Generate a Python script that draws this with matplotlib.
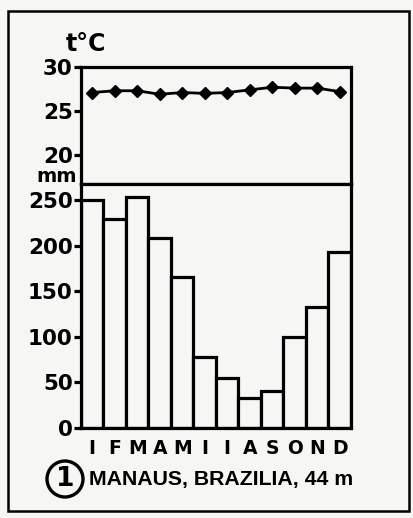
import matplotlib
matplotlib.use("Agg")
import matplotlib.pyplot as plt
from matplotlib.patches import Rectangle, Ellipse

months = ["I", "F", "M", "A", "M", "I", "I", "A", "S", "O", "N", "D"]
precip_mm = [250, 229, 253, 208, 166, 78, 55, 33, 41, 100, 133, 193]
temp_c = [27.1, 27.3, 27.3, 26.9, 27.1, 27.0, 27.1, 27.4, 27.7, 27.6, 27.6, 27.2]
temp_ticks = [20, 25, 30]
precip_ticks = [0, 50, 100, 150, 200, 250]
title = "MANAUS, BRAZILIA, 44 m"
station_no = "1"

W, H = 414, 518
DPI = 100
bg = "#f6f6f4"
fig = plt.figure(figsize=(W / DPI, H / DPI), dpi=DPI, facecolor=bg)

def fbox(left, top, right, bottom):
    return [left / W, 1 - bottom / H, (right - left) / W, (bottom - top) / H]

FONT = dict(family="DejaVu Sans", weight="bold")
LW = 2.3

x = list(range(len(months)))

# temperature panel
axt = fig.add_axes(fbox(81, 67, 351, 184))
axt.set_facecolor(bg)
axt.plot(x, temp_c, color="black", lw=2.0, marker="D", ms=6.5)
axt.set_xlim(-0.5, 11.5)
axt.set_ylim(16.7, 30)
axt.set_yticks(temp_ticks)
axt.set_yticklabels([str(t) for t in temp_ticks], fontsize=15.5, **FONT)
axt.set_xticks([])
for s in axt.spines.values():
    s.set_linewidth(LW)
axt.tick_params(axis="y", length=5, width=LW, pad=1)

# precipitation panel
axp = fig.add_axes(fbox(81, 184, 351, 428))
axp.set_facecolor(bg)
axp.bar(x, precip_mm, width=1.0, color=bg, edgecolor="black", linewidth=LW)
axp.set_xlim(-0.5, 11.5)
axp.set_ylim(0, 267.5)
axp.set_yticks(precip_ticks)
axp.set_yticklabels([str(t) for t in precip_ticks], fontsize=15.5, **FONT)
axp.set_xticks(x)
axp.set_xticklabels(months, fontsize=13.5, **FONT)
for s in axp.spines.values():
    s.set_linewidth(LW)
axp.tick_params(axis="y", length=5, width=LW, pad=1)
axp.tick_params(axis="x", length=0, pad=8)

# unit labels
fig.text(86 / W, 1 - 44 / H, "t°C", fontsize=17, ha="center", va="center", **FONT)
fig.text(57 / W, 1 - 176 / H, "mm", fontsize=14, ha="center", va="center", **FONT)

# title with circled number
cx, cy, r = 65, 479, 18
circ = Ellipse((cx / W, 1 - cy / H), 2 * r / W, 2 * r / H, transform=fig.transFigure,
               fill=False, lw=2.4, edgecolor="black")
fig.patches.append(circ)
fig.text(cx / W, 1 - cy / H, station_no, fontsize=19, ha="center", va="center", **FONT)
fig.text(89 / W, 1 - 480 / H, title, fontsize=15.3, ha="left", va="center",
         family=["Liberation Sans", "DejaVu Sans"], weight="bold")

# outer frame
frame = Rectangle((8 / W, 1 - 511 / H), (409 - 8) / W, (511 - 11) / H,
                  transform=fig.transFigure, fill=False, lw=1.8, edgecolor="black")
fig.patches.append(frame)

fig.savefig("out.png", dpi=DPI, facecolor=bg)
